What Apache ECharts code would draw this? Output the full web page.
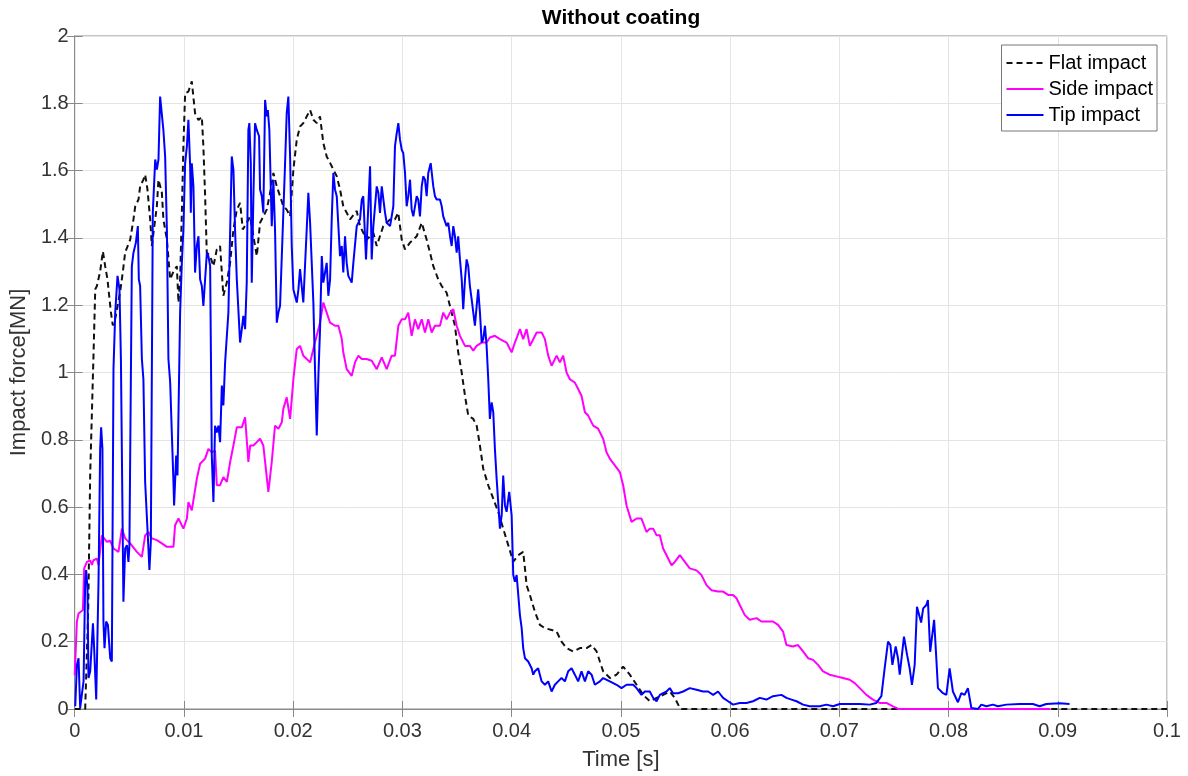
<!DOCTYPE html>
<html>
<head>
<meta charset="utf-8">
<script src="https://cdn.jsdelivr.net/npm/echarts@6/dist/echarts.min.js"></script>
<style>
html,body{margin:0;padding:0;background:#fff;}
#chart{width:1188px;height:776px;}
</style>
</head>
<body>
<div id="chart"></div>
<script>
// Time [s], Impact force [MN]
var flatImpact = [
[0,0],[0.00096,0],[0.00124,0.30],[0.00142,0.70],[0.00172,1.05],[0.00188,1.247],[0.00203,1.257],[0.00233,1.30],
[0.00258,1.36],[0.00279,1.316],[0.00300,1.277],[0.00331,1.18],[0.00349,1.14],[0.00371,1.16],[0.00416,1.24],
[0.00441,1.30],[0.00462,1.357],[0.00508,1.395],[0.00538,1.455],[0.00554,1.494],[0.00584,1.514],[0.00599,1.553],
[0.00629,1.573],[0.00645,1.588],[0.00666,1.544],[0.00691,1.455],[0.00706,1.376],[0.00752,1.494],[0.00767,1.573],
[0.00798,1.534],[0.00812,1.455],[0.00844,1.395],[0.00874,1.277],[0.00904,1.30],[0.00935,1.316],[0.00950,1.208],
[0.00965,1.277],[0.00981,1.475],[0.00995,1.672],[0.01011,1.83],[0.01041,1.835],[0.01072,1.865],[0.01102,1.77],
[0.01133,1.75],[0.01164,1.76],[0.01178,1.672],[0.01194,1.524],[0.01209,1.357],[0.01240,1.346],[0.01270,1.316],
[0.01301,1.366],[0.01331,1.376],[0.01361,1.228],[0.01393,1.268],[0.01423,1.327],[0.01453,1.425],[0.01484,1.484],
[0.01514,1.504],[0.01539,1.425],[0.01575,1.445],[0.01606,1.464],[0.01636,1.405],[0.01667,1.346],[0.01697,1.445],
[0.01727,1.464],[0.01758,1.484],[0.01789,1.534],[0.01819,1.593],[0.01850,1.553],[0.01880,1.524],[0.01910,1.494],
[0.01941,1.484],[0.01972,1.464],[0.02002,1.603],[0.02033,1.692],[0.02063,1.731],[0.02093,1.741],[0.02124,1.761],
[0.02155,1.78],[0.02185,1.751],[0.02216,1.741],[0.02246,1.761],[0.02276,1.682],[0.02307,1.642],[0.02338,1.623],
[0.02368,1.603],[0.02399,1.583],[0.02429,1.544],[0.02459,1.494],[0.02490,1.475],[0.02521,1.455],[0.02582,1.48],
[0.02612,1.435],[0.02673,1.395],[0.02734,1.415],[0.02765,1.376],[0.02825,1.435],[0.02887,1.455],[0.02932,1.455],
[0.02962,1.475],[0.02994,1.395],[0.03024,1.366],[0.03070,1.386],[0.03131,1.405],[0.03177,1.445],[0.03222,1.395],
[0.03253,1.356],[0.03283,1.316],[0.03328,1.277],[0.03360,1.257],[0.03405,1.237],[0.03451,1.178],[0.03481,1.139],
[0.03511,1.06],[0.03543,1.0],[0.03573,0.931],[0.03603,0.872],[0.03649,0.862],[0.03680,0.842],[0.03710,0.783],
[0.03740,0.714],[0.03786,0.665],[0.03832,0.625],[0.03877,0.586],[0.03923,0.536],[0.03969,0.487],[0.04015,0.438],
[0.04060,0.457],[0.04106,0.467],[0.04122,0.418],[0.04137,0.368],[0.04167,0.339],[0.04213,0.289],[0.04259,0.25],
[0.04305,0.24],[0.04366,0.235],[0.04412,0.23],[0.04457,0.2],[0.04503,0.181],[0.04564,0.171],[0.04625,0.181],
[0.04686,0.181],[0.04732,0.19],[0.04778,0.171],[0.04808,0.141],[0.04838,0.112],[0.04900,0.092],[0.04961,0.102],
[0.05021,0.126],[0.05082,0.102],[0.05144,0.072],[0.05204,0.042],[0.05265,0.023],[0.05327,0.033],[0.05387,0.042],
[0.05448,0.052],[0.05494,0.033],[0.05540,0.003],[0.0556,0],[0.1,0]
];

var sideImpact = [
[0,0.10],[0.00020,0.26],[0.00035,0.284],[0.00075,0.294],[0.00087,0.418],[0.00112,0.437],[0.00142,0.442],
[0.00157,0.428],[0.00172,0.442],[0.00203,0.447],[0.00218,0.428],[0.00249,0.516],[0.00295,0.497],[0.00325,0.50],
[0.00355,0.477],[0.00401,0.467],[0.00432,0.536],[0.00462,0.507],[0.00508,0.492],[0.00569,0.467],[0.00615,0.452],
[0.00645,0.516],[0.00675,0.526],[0.00706,0.507],[0.00752,0.502],[0.00798,0.492],[0.00844,0.482],[0.00904,0.482],
[0.00919,0.546],[0.00950,0.566],[0.00995,0.536],[0.01027,0.566],[0.01041,0.615],[0.01072,0.59],[0.01087,0.59],
[0.01118,0.684],[0.01148,0.729],[0.01194,0.744],[0.01224,0.773],[0.01255,0.763],[0.01285,0.768],[0.01301,0.665],
[0.01331,0.665],[0.01361,0.689],[0.01393,0.675],[0.01423,0.734],[0.01453,0.783],[0.01484,0.837],[0.01530,0.837],
[0.01560,0.867],[0.01590,0.734],[0.01606,0.783],[0.01636,0.783],[0.01667,0.793],[0.01697,0.803],[0.01727,0.783],
[0.01773,0.645],[0.01804,0.734],[0.01834,0.842],[0.01865,0.833],[0.01896,0.852],[0.01910,0.892],[0.01941,0.926],
[0.01972,0.862],[0.02002,0.98],[0.02033,1.07],[0.02063,1.079],[0.02093,1.05],[0.02124,1.04],[0.02155,1.03],
[0.02200,1.09],[0.02246,1.148],[0.02276,1.208],[0.02307,1.178],[0.02338,1.148],[0.02383,1.139],[0.02414,1.139],
[0.02445,1.10],[0.02459,1.06],[0.02490,1.01],[0.02536,0.99],[0.02566,1.03],[0.02597,1.05],[0.02628,1.04],
[0.02673,1.04],[0.02719,1.035],[0.02765,1.01],[0.02811,1.045],[0.02856,1.01],[0.02902,1.05],[0.02932,1.05],
[0.02963,1.139],[0.02994,1.158],[0.03024,1.158],[0.03054,1.178],[0.03085,1.109],[0.03115,1.158],[0.03145,1.129],
[0.03177,1.158],[0.03207,1.119],[0.03237,1.158],[0.03268,1.119],[0.03298,1.139],[0.03344,1.139],[0.03374,1.178],
[0.03405,1.158],[0.03436,1.178],[0.03466,1.188],[0.03497,1.139],[0.03527,1.109],[0.03573,1.079],[0.03618,1.079],
[0.03649,1.065],[0.03680,1.079],[0.03726,1.089],[0.03771,1.089],[0.03801,1.104],[0.03847,1.109],[0.03893,1.099],
[0.03954,1.089],[0.04000,1.06],[0.04030,1.089],[0.04076,1.129],[0.04106,1.099],[0.04137,1.129],[0.04167,1.079],
[0.04198,1.099],[0.04229,1.119],[0.04275,1.119],[0.04305,1.099],[0.04335,1.05],[0.04366,1.02],[0.04412,1.05],
[0.04442,1.03],[0.04472,1.05],[0.04503,1.0],[0.04533,0.98],[0.04579,0.97],[0.04609,0.951],[0.04640,0.931],
[0.04671,0.882],[0.04701,0.872],[0.04747,0.842],[0.04792,0.833],[0.04838,0.803],[0.04869,0.763],[0.04899,0.744],
[0.04945,0.724],[0.04991,0.704],[0.05021,0.665],[0.05052,0.605],[0.05098,0.556],[0.05144,0.566],[0.05189,0.566],
[0.05235,0.526],[0.05265,0.536],[0.05296,0.536],[0.05327,0.516],[0.05357,0.516],[0.05387,0.477],[0.05418,0.457],
[0.05464,0.427],[0.05494,0.437],[0.05540,0.457],[0.05586,0.437],[0.05631,0.418],[0.05693,0.412],[0.05738,0.398],
[0.05784,0.368],[0.05830,0.353],[0.05890,0.349],[0.05936,0.349],[0.05982,0.339],[0.06027,0.339],[0.06059,0.329],
[0.06089,0.309],[0.06135,0.279],[0.06180,0.265],[0.06242,0.27],[0.06287,0.26],[0.06333,0.26],[0.06393,0.26],
[0.06439,0.25],[0.06485,0.23],[0.06516,0.19],[0.06576,0.186],[0.06622,0.19],[0.06668,0.171],[0.06714,0.151],
[0.06760,0.146],[0.06805,0.131],[0.06851,0.112],[0.06912,0.102],[0.06973,0.097],[0.07034,0.092],[0.07095,0.087],
[0.07141,0.077],[0.07187,0.062],[0.07248,0.042],[0.07308,0.028],[0.07369,0.018],[0.07431,0.018],[0.07491,0.008],
[0.07537,0.001],[0.0760,0],[0.0893,0]
];

var tipImpact = [
[0.00005,0.008],[0.00020,0.13],[0.00035,0.151],[0.00050,0.003],[0.00066,0],[0.00081,0.082],[0.00096,0.378],
[0.00105,0.413],[0.00117,0.358],[0.00126,0.092],[0.00142,0.112],[0.00167,0.255],[0.00178,0.181],[0.00197,0.028],
[0.00218,0.378],[0.00233,0.773],[0.00242,0.837],[0.00254,0.773],[0.00263,0.26],[0.00273,0.181],[0.00288,0.26],
[0.00304,0.25],[0.00325,0.151],[0.00340,0.141],[0.00355,1.01],[0.00371,1.178],[0.00392,1.287],[0.00410,1.247],
[0.00423,1.04],[0.00446,0.319],[0.00462,0.477],[0.00478,0.487],[0.00492,0.437],[0.00501,0.487],[0.00523,1.316],
[0.00538,1.356],[0.00560,1.386],[0.00578,1.435],[0.00587,1.277],[0.00599,1.257],[0.00615,1.04],[0.00629,0.98],
[0.00645,0.674],[0.00675,0.477],[0.00684,0.413],[0.00697,0.497],[0.00715,1.475],[0.00737,1.633],[0.00752,1.603],
[0.00767,1.633],[0.00782,1.82],[0.00798,1.82],[0.00812,1.72],[0.00828,1.642],[0.00844,1.425],[0.00858,1.04],
[0.00874,0.971],[0.00889,0.822],[0.00904,0.674],[0.00910,0.605],[0.00929,0.753],[0.00941,0.694],[0.00965,1.178],
[0.00981,1.326],[0.00995,1.425],[0.01011,1.622],[0.01027,1.672],[0.01041,1.751],[0.01057,1.613],[0.01063,1.475],
[0.01072,1.622],[0.01087,1.553],[0.01102,1.297],[0.01118,1.376],[0.01133,1.405],[0.01148,1.277],[0.01164,1.257],
[0.01178,1.198],[0.01194,1.277],[0.01210,1.356],[0.01224,1.346],[0.01240,1.316],[0.01255,0.753],[0.01270,0.615],
[0.01285,0.842],[0.01301,0.822],[0.01316,0.842],[0.01331,0.793],[0.01347,0.961],[0.01361,0.902],[0.01377,1.03],
[0.01407,1.178],[0.01438,1.642],[0.01453,1.603],[0.01468,1.425],[0.01484,1.277],[0.01514,1.089],[0.01530,1.129],
[0.01544,1.168],[0.01560,1.129],[0.01575,1.267],[0.01590,1.721],[0.01599,1.741],[0.01612,1.622],[0.01621,1.267],
[0.01636,1.524],[0.01651,1.741],[0.01667,1.721],[0.01688,1.702],[0.01697,1.544],[0.01713,1.524],[0.01727,1.475],
[0.01743,1.81],[0.01758,1.761],[0.01768,1.78],[0.01782,1.721],[0.01804,1.435],[0.01819,1.573],[0.01834,1.425],
[0.01850,1.148],[0.01865,1.178],[0.01880,1.198],[0.01910,1.475],[0.01926,1.622],[0.01941,1.771],[0.01956,1.82],
[0.01972,1.642],[0.01987,1.376],[0.02002,1.247],[0.02033,1.208],[0.02048,1.247],[0.02063,1.307],[0.02093,1.208],
[0.02124,1.425],[0.02139,1.534],[0.02155,1.445],[0.02185,1.208],[0.02200,1.01],[0.02216,0.813],[0.02232,1.0],
[0.02246,1.129],[0.02262,1.346],[0.02276,1.267],[0.02307,1.326],[0.02322,1.228],[0.02338,1.277],[0.02353,1.455],
[0.02368,1.593],[0.02383,1.544],[0.02399,1.524],[0.02429,1.346],[0.02445,1.376],[0.02459,1.297],[0.02475,1.405],
[0.02490,1.326],[0.02505,1.287],[0.02536,1.267],[0.02551,1.326],[0.02582,1.435],[0.02612,1.455],[0.02628,1.514],
[0.02642,1.524],[0.02667,1.336],[0.02688,1.494],[0.02704,1.613],[0.02719,1.336],[0.02734,1.435],[0.02765,1.553],
[0.02780,1.534],[0.02795,1.474],[0.02811,1.553],[0.02825,1.553],[0.02841,1.475],[0.02856,1.445],[0.02887,1.435],
[0.02902,1.464],[0.02917,1.494],[0.02932,1.672],[0.02948,1.711],[0.02963,1.741],[0.02978,1.692],[0.02994,1.662],
[0.03008,1.652],[0.03024,1.593],[0.03039,1.494],[0.03054,1.524],[0.03070,1.573],[0.03085,1.484],[0.03100,1.464],
[0.03131,1.524],[0.03145,1.514],[0.03161,1.464],[0.03177,1.553],[0.03191,1.583],[0.03207,1.573],[0.03222,1.524],
[0.03237,1.593],[0.03259,1.622],[0.03283,1.553],[0.03298,1.524],[0.03314,1.514],[0.03344,1.514],[0.03360,1.494],
[0.03374,1.464],[0.03405,1.435],[0.03420,1.445],[0.03436,1.405],[0.03451,1.376],[0.03466,1.435],[0.03481,1.405],
[0.03497,1.356],[0.03511,1.405],[0.03527,1.336],[0.03543,1.277],[0.03557,1.188],[0.03573,1.277],[0.03588,1.336],
[0.03603,1.316],[0.03618,1.257],[0.03634,1.218],[0.03649,1.178],[0.03664,1.139],[0.03680,1.198],[0.03694,1.247],
[0.03710,1.178],[0.03726,1.089],[0.03740,1.099],[0.03756,1.139],[0.03771,1.079],[0.03786,0.98],[0.03801,0.862],
[0.03817,0.911],[0.03832,0.882],[0.03847,0.773],[0.03863,0.684],[0.03893,0.536],[0.03909,0.576],[0.03923,0.694],
[0.03939,0.605],[0.03954,0.586],[0.03978,0.645],[0.04000,0.576],[0.04015,0.398],[0.04030,0.378],[0.04046,0.398],
[0.04076,0.279],[0.04092,0.24],[0.04106,0.181],[0.04122,0.151],[0.04152,0.141],[0.04183,0.121],[0.04198,0.102],
[0.04213,0.112],[0.04243,0.121],[0.04275,0.082],[0.04305,0.072],[0.04335,0.082],[0.04366,0.052],[0.04396,0.072],
[0.04426,0.082],[0.04457,0.092],[0.04488,0.082],[0.04518,0.112],[0.04549,0.121],[0.04579,0.102],[0.04609,0.082],
[0.04640,0.112],[0.04671,0.082],[0.04701,0.112],[0.04732,0.102],[0.04762,0.072],[0.04808,0.082],[0.04838,0.092],
[0.04899,0.082],[0.04961,0.072],[0.05006,0.062],[0.05052,0.072],[0.05113,0.072],[0.05144,0.062],[0.05189,0.042],
[0.05220,0.052],[0.05265,0.052],[0.05296,0.033],[0.05327,0.023],[0.05357,0.042],[0.05418,0.052],[0.05448,0.062],
[0.05478,0.047],[0.05524,0.047],[0.05570,0.052],[0.05631,0.062],[0.05693,0.057],[0.05753,0.052],[0.05799,0.052],
[0.05845,0.042],[0.05890,0.052],[0.05936,0.033],[0.05982,0.023],[0.06027,0.013],[0.06089,0.018],[0.06150,0.018],
[0.06210,0.023],[0.06272,0.033],[0.06333,0.028],[0.06393,0.038],[0.06470,0.042],[0.06516,0.033],[0.06562,0.028],
[0.06608,0.023],[0.06668,0.013],[0.06729,0.008],[0.06821,0.008],[0.06882,0.013],[0.06942,0.008],[0.07004,0.015],
[0.07095,0.015],[0.07187,0.015],[0.07278,0.013],[0.07339,0.018],[0.07385,0.038],[0.07415,0.121],[0.07446,0.2],
[0.07468,0.19],[0.07486,0.131],[0.07516,0.186],[0.07537,0.151],[0.07553,0.102],[0.07592,0.215],[0.07621,0.16],
[0.07644,0.121],[0.07665,0.072],[0.07690,0.131],[0.07711,0.304],[0.07726,0.299],[0.07749,0.257],[0.07768,0.299],
[0.07797,0.309],[0.07811,0.324],[0.07832,0.17],[0.07868,0.265],[0.07888,0.151],[0.07903,0.062],[0.07949,0.047],
[0.07980,0.042],[0.08010,0.121],[0.08040,0.052],[0.08086,0.02],[0.08117,0.047],[0.08147,0.042],[0.08177,0.062],
[0.08209,0.003],[0.08269,0],[0.08300,0.013],[0.08346,0.008],[0.08406,0.013],[0.08452,0.008],[0.08529,0.013],
[0.08651,0.015],[0.08772,0.015],[0.08834,0.008],[0.08895,0.015],[0.09017,0.017],[0.09108,0.015]
];

var seriesNames = ['Flat impact', 'Side impact', 'Tip impact'];
var xTickLabels = ['0','0.01','0.02','0.03','0.04','0.05','0.06','0.07','0.08','0.09','0.1'];
var yTickLabels = ['0','0.2','0.4','0.6','0.8','1','1.2','1.4','1.6','1.8','2'];

var FONT = '"Liberation Sans", Arial, Helvetica, sans-serif';
var axisGray = '#8a8a8a';
var gridGray = '#e4e4e4';
var labelColor = '#333333';

var chart = echarts.init(document.getElementById('chart'), null, {renderer: 'canvas'});
chart.setOption({
  animation: false,
  backgroundColor: '#ffffff',
  textStyle: {fontFamily: FONT},
  title: {
    text: 'Without coating',
    left: 621, top: 8, textAlign: 'center', padding: 0,
    textStyle: {fontFamily: FONT, fontSize: 21, fontWeight: 'bold', color: '#000'}
  },
  grid: {left: 74, right: 21, top: 36, bottom: 65, show: true, borderColor: axisGray, borderWidth: 1, backgroundColor: 'transparent'},
  legend: {
    orient: 'vertical', right: 31, top: 45,
    data: seriesNames,
    itemWidth: 37, itemHeight: 14, itemGap: 6,
    padding: [8, 4, 6, 4],
    borderColor: '#777', borderWidth: 1, backgroundColor: '#fff',
    itemStyle: {opacity: 0, borderWidth: 0},
    textStyle: {fontFamily: FONT, fontSize: 20, color: '#000'}
  },
  xAxis: [{
    type: 'value', min: 0, max: 0.1, interval: 0.01,
    name: 'Time [s]', nameLocation: 'middle', nameGap: 40,
    nameTextStyle: {fontFamily: FONT, fontSize: 22, color: labelColor},
    axisLine: {show: true, lineStyle: {color: axisGray, width: 1}},
    axisTick: {show: true, inside: true, length: 8, lineStyle: {color: axisGray}},
    axisLabel: {fontFamily: FONT, fontSize: 20, color: labelColor, margin: 12,
      formatter: function (v) { return xTickLabels[Math.round(v / 0.01)]; }},
    splitLine: {show: true, lineStyle: {color: gridGray, width: 1}}
  }, {
    type: 'value', min: 0, max: 0.1, interval: 0.01, position: 'top',
    axisLine: {show: true, lineStyle: {color: axisGray, width: 1}},
    axisTick: {show: true, inside: true, length: 8, lineStyle: {color: axisGray}},
    axisLabel: {show: false}, splitLine: {show: false}
  }],
  yAxis: [{
    type: 'value', min: 0, max: 2, interval: 0.2,
    name: 'Impact force[MN]', nameLocation: 'middle', nameGap: 42, nameRotate: 90,
    nameTextStyle: {fontFamily: FONT, fontSize: 22, color: labelColor},
    axisLine: {show: true, lineStyle: {color: axisGray, width: 1}},
    axisTick: {show: true, inside: true, length: 8, lineStyle: {color: axisGray}},
    axisLabel: {fontFamily: FONT, fontSize: 20, color: labelColor, margin: 6,
      formatter: function (v) { return yTickLabels[Math.round(v / 0.2)]; }},
    splitLine: {show: true, lineStyle: {color: gridGray, width: 1}}
  }, {
    type: 'value', min: 0, max: 2, interval: 0.2, position: 'right',
    axisLine: {show: true, lineStyle: {color: axisGray, width: 1}},
    axisTick: {show: true, inside: true, length: 8, lineStyle: {color: axisGray}},
    axisLabel: {show: false}, splitLine: {show: false}
  }],
  series: [{
    name: seriesNames[0], type: 'line', data: flatImpact, symbol: 'none', showSymbol: false,
    xAxisIndex: 0, yAxisIndex: 0,
    lineStyle: {color: '#111111', width: 2, type: [6, 4]},
    itemStyle: {color: '#111111'}
  }, {
    name: seriesNames[1], type: 'line', data: sideImpact, symbol: 'none', showSymbol: false,
    xAxisIndex: 0, yAxisIndex: 0,
    lineStyle: {color: '#ff00ff', width: 2},
    itemStyle: {color: '#ff00ff'}
  }, {
    name: seriesNames[2], type: 'line', data: tipImpact, symbol: 'none', showSymbol: false,
    xAxisIndex: 0, yAxisIndex: 0,
    lineStyle: {color: '#0000ff', width: 2},
    itemStyle: {color: '#0000ff'}
  }]
});
</script>
</body>
</html>
